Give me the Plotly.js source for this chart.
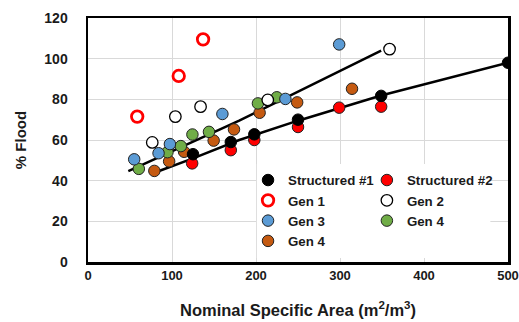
<!DOCTYPE html>
<html>
<head>
<meta charset="utf-8">
<script src="https://cdn.plot.ly/plotly-3.0.1.min.js"></script>
<style>html,body{margin:0;padding:0;background:#fff;}#chart{width:519px;height:322px;}</style>
</head>
<body>
<div id="chart"></div>
<script>
// ---- Data ----
var s1X = [125, 170, 198, 250, 349, 500];
var s1Y = [53, 59, 62.8, 70, 81.7, 98];

var s2X = [124, 170, 198, 250, 299, 349];
var s2Y = [48.5, 55, 60, 66.4, 75.9, 76.4];

var gen1X = [58.6, 108, 137];
var gen1Y = [71.5, 91.5, 109.5];

var gen2X = [76.5, 104, 134, 214, 359];
var gen2Y = [58.8, 71.5, 76.4, 79.7, 104.7];

var gen3X = [55, 84, 97.5, 160, 235, 299];
var gen3Y = [50.5, 53.5, 58, 72.8, 80.2, 107];

var gen4gX = [60.5, 94.6, 110.5, 124.3, 144, 202.3, 224.8];
var gen4gY = [45.8, 54, 57, 62.7, 64, 78, 81];

var gen4oX = [79, 96.6, 114.4, 149.6, 173.8, 204.3, 249, 314.3];
var gen4oY = [44.8, 49.5, 54.2, 59.7, 65.2, 73.4, 78.5, 85.2];

// trend lines
var trendUpX = [48, 180, 349];
var trendUpY = [44.7, 69.5, 104];
var trendLoX = [83, 125, 180, 250, 350, 500];
var trendLoY = [44.5, 51, 60, 69.5, 82, 98];

var xTicks = [0, 100, 200, 300, 400, 500];
var yTicks = [0, 20, 40, 60, 80, 100, 120];

// ---- Chart ----
var FONT = 'Liberation Sans, Arial, sans-serif';
var TXT = '#1a1a1a';
var MS = 11.5;

function pts(name, x, y, fill, lineColor, lineWidth, legendId) {
  return {
    type: 'scatter', mode: 'markers', name: name, x: x, y: y,
    legend: legendId,
    marker: {symbol: 'circle', size: MS, color: fill, line: {color: lineColor, width: lineWidth}},
    hoverinfo: 'x+y+name'
  };
}

var traces = [
  {type: 'scatter', mode: 'lines', x: trendUpX, y: trendUpY, showlegend: false,
   line: {color: '#000', width: 2.5}, hoverinfo: 'skip'},
  {type: 'scatter', mode: 'lines', x: trendLoX, y: trendLoY, showlegend: false,
   line: {color: '#000', width: 2.5}, hoverinfo: 'skip'},
  pts('Gen 4', gen4oX, gen4oY, '#C55A11', '#222', 1, 'legend'),
  pts('Gen 4', gen4gX, gen4gY, '#70AD47', '#222', 1, 'legend2'),
  pts('Gen 3', gen3X, gen3Y, '#5B9BD5', '#222', 1, 'legend'),
  pts('Gen 2', gen2X, gen2Y, '#FFFFFF', '#000', 1.3, 'legend2'),
  pts('Gen 1', gen1X, gen1Y, '#FFFFFF', '#FF0000', 2.8, 'legend'),
  pts('Structured #2', s2X, s2Y, '#FF0000', '#222', 1, 'legend2'),
  pts('Structured #1', s1X, s1Y, '#000000', '#000', 1, 'legend')
];

var legendCommon = {
  orientation: 'v', traceorder: 'reversed', bgcolor: 'rgba(0,0,0,0)', borderwidth: 0,
  font: {family: FONT, size: 13.3, color: TXT, weight: 'bold'},
  xanchor: 'left', yanchor: 'top', itemwidth: 30, tracegroupgap: 0
};

var layout = {
  width: 519, height: 322,
  margin: {l: 88, r: 11, t: 18, b: 60, pad: 0},
  paper_bgcolor: '#FFFFFF', plot_bgcolor: '#FFFFFF',
  font: {family: FONT, color: TXT},
  showlegend: true,
  legend: Object.assign({}, legendCommon, {x: 0.381, y: 0.398}),
  legend2: Object.assign({}, legendCommon, {x: 0.664, y: 0.398}),
  shapes: [{
    type: 'rect', xref: 'paper', yref: 'paper', layer: 'above',
    x0: 0.402, x1: 0.958, y0: 0.016, y1: 0.402,
    fillcolor: '#FFFFFF', line: {width: 0}
  }],
  xaxis: {
    range: [0, 500], tickvals: xTicks, ticktext: xTicks.map(String),
    showgrid: true, gridcolor: '#d9d9d9', gridwidth: 1,
    zeroline: false, showline: true, mirror: true, linecolor: '#000', linewidth: 2.5,
    ticks: '', ticklabeloverflow: 'allow',
    tickfont: {family: FONT, size: 13, color: TXT, weight: 'bold'},
    title: {text: 'Nominal Specific Area (m<sup>2</sup>/m<sup>3</sup>)', standoff: 23,
            font: {family: FONT, size: 16.5, color: TXT, weight: 'bold'}}
  },
  yaxis: {
    range: [0, 120], tickvals: yTicks, ticktext: yTicks.map(String),
    showgrid: true, gridcolor: '#d9d9d9', gridwidth: 1,
    zeroline: false, showline: true, mirror: true, linecolor: '#000', linewidth: 2.5,
    ticks: '', ticklabelstandoff: 15, ticklabeloverflow: 'allow',
    tickfont: {family: FONT, size: 14, color: TXT, weight: 'bold'},
    title: {text: '% Flood', standoff: 14,
            font: {family: FONT, size: 15, color: TXT, weight: 'bold'}}
  }
};

Plotly.newPlot('chart', traces, layout, {displayModeBar: false, staticPlot: true});
</script>
</body>
</html>
